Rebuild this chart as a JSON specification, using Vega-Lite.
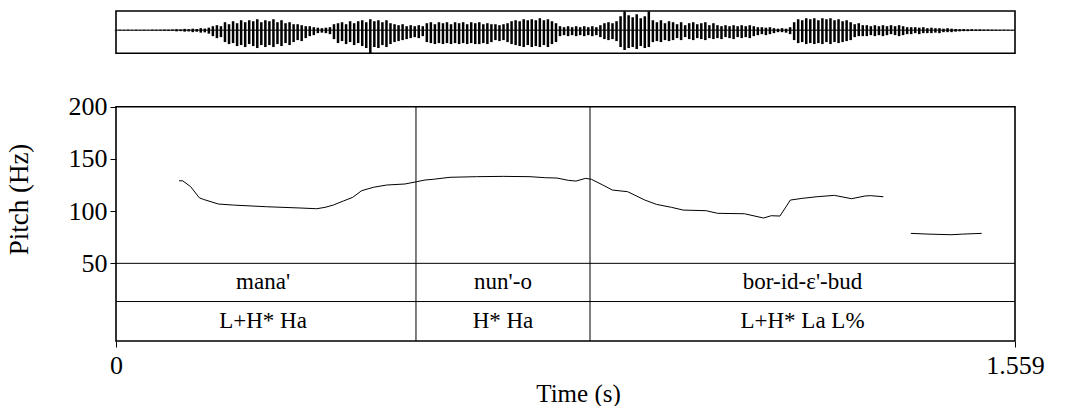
{
  "$schema": "https://vega.github.io/schema/vega-lite/v6.json",
  "autosize": {"type": "none"},
  "padding": {"left": 116, "top": 11, "right": 60, "bottom": 65},
  "width": 899,
  "height": 330,
  "background": "white",
  "config": {"font": "Liberation Serif", "view": {"stroke": null}},
  "datasets": {
    "pitch": [
      {"t":0.1093,"f":129.1,"seg":1},{"t":0.1157,"f":129.0,"seg":1},{"t":0.1295,"f":123.4,"seg":1},{"t":0.1445,"f":112.8,"seg":1},{"t":0.1514,"f":111.3,"seg":1},{"t":0.1774,"f":106.8,"seg":1},{"t":0.2034,"f":105.8,"seg":1},{"t":0.2613,"f":104.2,"seg":1},{"t":0.3191,"f":103.0,"seg":1},{"t":0.348,"f":102.3,"seg":1},{"t":0.3624,"f":103.6,"seg":1},{"t":0.3768,"f":105.8,"seg":1},{"t":0.3942,"f":109.7,"seg":1},{"t":0.4105,"f":113.2,"seg":1},{"t":0.4261,"f":119.6,"seg":1},{"t":0.4462,"f":122.8,"seg":1},{"t":0.4694,"f":125.0,"seg":1},{"t":0.5012,"f":126.0,"seg":1},{"t":0.5214,"f":128.2,"seg":1},{"t":0.5358,"f":129.8,"seg":1},{"t":0.5502,"f":130.5,"seg":1},{"t":0.5792,"f":132.4,"seg":1},{"t":0.6251,"f":133.0,"seg":1},{"t":0.6716,"f":133.3,"seg":1},{"t":0.7179,"f":133.0,"seg":1},{"t":0.7446,"f":132.0,"seg":1},{"t":0.7646,"f":131.7,"seg":1},{"t":0.7845,"f":129.5,"seg":1},{"t":0.7977,"f":128.8,"seg":1},{"t":0.8143,"f":131.4,"seg":1},{"t":0.8244,"f":130.5,"seg":1},{"t":0.8442,"f":125.0,"seg":1},{"t":0.8608,"f":120.2,"seg":1},{"t":0.8873,"f":118.6,"seg":1},{"t":0.9172,"f":110.6,"seg":1},{"t":0.9371,"f":106.5,"seg":1},{"t":0.9636,"f":103.6,"seg":1},{"t":0.9836,"f":101.0,"seg":1},{"t":1.0235,"f":100.4,"seg":1},{"t":1.0432,"f":97.9,"seg":1},{"t":1.0897,"f":97.5,"seg":1},{"t":1.123,"f":93.4,"seg":1},{"t":1.1362,"f":95.6,"seg":1},{"t":1.1514,"f":95.3,"seg":1},{"t":1.1695,"f":110.6,"seg":1},{"t":1.1893,"f":112.2,"seg":1},{"t":1.2158,"f":113.8,"seg":1},{"t":1.2458,"f":115.1,"seg":1},{"t":1.2756,"f":111.9,"seg":1},{"t":1.2988,"f":114.5,"seg":1},{"t":1.3087,"f":114.8,"seg":1},{"t":1.3307,"f":113.8,"seg":1},
      {"t":1.3784,"f":78.7,"seg":2},{"t":1.4081,"f":78.0,"seg":2},{"t":1.448,"f":77.4,"seg":2},{"t":1.4681,"f":78.0,"seg":2},{"t":1.5012,"f":78.7,"seg":2}
    ],
    "intervals": [
      {"tier":"word","start":0,"end":0.5202,"t":0.2550,"label":"mana'"},
      {"tier":"word","start":0.5202,"end":0.822,"t":0.6711,"label":"nun'-o"},
      {"tier":"word","start":0.822,"end":1.559,"t":1.1905,"label":"bor-id-ɛ'-bud"},
      {"tier":"tone","start":0,"end":0.5202,"t":0.2550,"label":"L+H* Ha"},
      {"tier":"tone","start":0.5202,"end":0.822,"t":0.6711,"label":"H* Ha"},
      {"tier":"tone","start":0.822,"end":1.559,"t":1.1905,"label":"L+H* La L%"}
    ],
    "wave": [
      {"t":0,"h":0.3,"l":-0.3},{"t":0.007,"h":0.4,"l":-0.3},{"t":0.014,"h":0.3,"l":-0.4},{"t":0.021,"h":0.5,"l":-0.3},{"t":0.028,"h":0.3,"l":-0.3},{"t":0.035,"h":0.4,"l":-0.5},{"t":0.042,"h":0.3,"l":-0.3},{"t":0.049,"h":0.4,"l":-0.4},{"t":0.056,"h":0.3,"l":-0.3},{"t":0.063,"h":0.5,"l":-0.4},
      {"t":0.07,"h":0.4,"l":-0.5},{"t":0.077,"h":0.5,"l":-0.4},{"t":0.084,"h":0.6,"l":-0.6},{"t":0.091,"h":0.5,"l":-0.7},{"t":0.098,"h":0.7,"l":-0.6},{"t":0.105,"h":1,"l":-1.2},{"t":0.112,"h":0.8,"l":-1},{"t":0.119,"h":1.3,"l":-1.5},{"t":0.126,"h":1,"l":-1.3},{"t":0.133,"h":1.5,"l":-2},
      {"t":0.14,"h":1.2,"l":-1.6},{"t":0.147,"h":2,"l":-2.5},{"t":0.154,"h":1.6,"l":-2.2},{"t":0.161,"h":2.5,"l":-3.5},{"t":0.168,"h":4,"l":-6},{"t":0.175,"h":5,"l":-8},{"t":0.182,"h":4,"l":-7},{"t":0.189,"h":8,"l":-12},{"t":0.196,"h":6,"l":-14},{"t":0.203,"h":9,"l":-13},
      {"t":0.21,"h":7,"l":-16},{"t":0.217,"h":10,"l":-15},{"t":0.224,"h":8,"l":-17},{"t":0.231,"h":10,"l":-14},{"t":0.238,"h":9,"l":-16},{"t":0.245,"h":11,"l":-18},{"t":0.252,"h":8,"l":-15},{"t":0.259,"h":10,"l":-17},{"t":0.266,"h":9,"l":-15},{"t":0.273,"h":11,"l":-17},
      {"t":0.28,"h":8,"l":-14},{"t":0.287,"h":10,"l":-16},{"t":0.294,"h":7,"l":-13},{"t":0.301,"h":8,"l":-15},{"t":0.308,"h":6,"l":-12},{"t":0.315,"h":6,"l":-10},{"t":0.322,"h":5,"l":-11},{"t":0.329,"h":4,"l":-8},{"t":0.336,"h":4,"l":-6},{"t":0.343,"h":3,"l":-5},
      {"t":0.35,"h":2.5,"l":-3},{"t":0.357,"h":2,"l":-2.5},{"t":0.364,"h":2.5,"l":-3},{"t":0.371,"h":3,"l":-4},{"t":0.378,"h":6,"l":-9},{"t":0.385,"h":7,"l":-13},{"t":0.392,"h":8,"l":-11},{"t":0.399,"h":6,"l":-14},{"t":0.406,"h":9,"l":-12},{"t":0.413,"h":7,"l":-15},
      {"t":0.42,"h":9,"l":-13},{"t":0.427,"h":10,"l":-16},{"t":0.434,"h":8,"l":-18},{"t":0.441,"h":11,"l":-23},{"t":0.448,"h":9,"l":-17},{"t":0.455,"h":10,"l":-18},{"t":0.462,"h":8,"l":-15},{"t":0.469,"h":10,"l":-17},{"t":0.476,"h":7,"l":-14},{"t":0.483,"h":6,"l":-12},
      {"t":0.49,"h":5,"l":-11},{"t":0.497,"h":6,"l":-10},{"t":0.504,"h":4,"l":-9},{"t":0.511,"h":5,"l":-8},{"t":0.518,"h":4,"l":-7},{"t":0.525,"h":5,"l":-8},{"t":0.532,"h":4,"l":-6},{"t":0.539,"h":7,"l":-12},{"t":0.546,"h":8,"l":-13},{"t":0.553,"h":6,"l":-14},
      {"t":0.56,"h":8,"l":-13},{"t":0.567,"h":7,"l":-14},{"t":0.574,"h":8,"l":-13},{"t":0.581,"h":6,"l":-14},{"t":0.588,"h":8,"l":-13},{"t":0.595,"h":7,"l":-14},{"t":0.602,"h":8,"l":-13},{"t":0.609,"h":6,"l":-14},{"t":0.616,"h":8,"l":-13},{"t":0.623,"h":7,"l":-14},
      {"t":0.63,"h":8,"l":-14},{"t":0.637,"h":6,"l":-13},{"t":0.644,"h":7,"l":-14},{"t":0.651,"h":6,"l":-12},{"t":0.658,"h":6,"l":-10},{"t":0.665,"h":5,"l":-11},{"t":0.672,"h":6,"l":-10},{"t":0.679,"h":7,"l":-12},{"t":0.686,"h":9,"l":-14},{"t":0.693,"h":10,"l":-15},
      {"t":0.7,"h":9,"l":-16},{"t":0.707,"h":11,"l":-17},{"t":0.714,"h":10,"l":-15},{"t":0.721,"h":11,"l":-17},{"t":0.728,"h":10,"l":-16},{"t":0.735,"h":12,"l":-17},{"t":0.742,"h":10,"l":-15},{"t":0.749,"h":11,"l":-17},{"t":0.756,"h":9,"l":-14},{"t":0.763,"h":7,"l":-12},
      {"t":0.77,"h":4,"l":-6},{"t":0.777,"h":3,"l":-5},{"t":0.784,"h":4,"l":-6},{"t":0.791,"h":3,"l":-5},{"t":0.798,"h":4,"l":-6},{"t":0.805,"h":3,"l":-5},{"t":0.812,"h":4,"l":-6},{"t":0.819,"h":3,"l":-5},{"t":0.826,"h":4,"l":-6},{"t":0.833,"h":3,"l":-5},
      {"t":0.84,"h":5,"l":-7},{"t":0.847,"h":7,"l":-9},{"t":0.854,"h":8,"l":-10},{"t":0.861,"h":7,"l":-9},{"t":0.868,"h":9,"l":-11},{"t":0.875,"h":14,"l":-17},{"t":0.882,"h":19,"l":-20},{"t":0.889,"h":15,"l":-18},{"t":0.896,"h":13,"l":-17},{"t":0.903,"h":16,"l":-19},
      {"t":0.91,"h":12,"l":-16},{"t":0.917,"h":14,"l":-18},{"t":0.924,"h":19,"l":-17},{"t":0.931,"h":10,"l":-12},{"t":0.938,"h":8,"l":-11},{"t":0.945,"h":10,"l":-12},{"t":0.952,"h":7,"l":-10},{"t":0.959,"h":9,"l":-11},{"t":0.966,"h":8,"l":-10},{"t":0.973,"h":6,"l":-8},
      {"t":0.98,"h":8,"l":-10},{"t":0.987,"h":5,"l":-7},{"t":0.994,"h":7,"l":-9},{"t":1.001,"h":8,"l":-10},{"t":1.008,"h":6,"l":-8},{"t":1.015,"h":7,"l":-9},{"t":1.022,"h":8,"l":-10},{"t":1.029,"h":5,"l":-8},{"t":1.036,"h":7,"l":-9},{"t":1.043,"h":5,"l":-8},
      {"t":1.05,"h":4,"l":-9},{"t":1.057,"h":5,"l":-7},{"t":1.064,"h":4,"l":-8},{"t":1.071,"h":5,"l":-9},{"t":1.078,"h":4,"l":-7},{"t":1.085,"h":5,"l":-8},{"t":1.092,"h":4,"l":-7},{"t":1.099,"h":5,"l":-8},{"t":1.106,"h":4,"l":-6},{"t":1.113,"h":3,"l":-5},
      {"t":1.12,"h":3,"l":-4},{"t":1.127,"h":2.5,"l":-5},{"t":1.134,"h":3,"l":-4},{"t":1.141,"h":2,"l":-3},{"t":1.148,"h":1.5,"l":-2},{"t":1.155,"h":2,"l":-2},{"t":1.162,"h":1.5,"l":-2.5},{"t":1.169,"h":3,"l":-4},{"t":1.176,"h":8,"l":-10},{"t":1.183,"h":11,"l":-13},
      {"t":1.19,"h":10,"l":-12},{"t":1.197,"h":12,"l":-14},{"t":1.204,"h":11,"l":-13},{"t":1.211,"h":12,"l":-14},{"t":1.218,"h":10,"l":-13},{"t":1.225,"h":12,"l":-14},{"t":1.232,"h":11,"l":-12},{"t":1.239,"h":12,"l":-14},{"t":1.246,"h":10,"l":-12},{"t":1.253,"h":11,"l":-13},
      {"t":1.26,"h":9,"l":-12},{"t":1.267,"h":10,"l":-11},{"t":1.274,"h":8,"l":-10},{"t":1.281,"h":6,"l":-7},{"t":1.288,"h":7,"l":-6},{"t":1.295,"h":5,"l":-6},{"t":1.302,"h":5,"l":-6},{"t":1.309,"h":4,"l":-5},{"t":1.316,"h":5,"l":-6},{"t":1.323,"h":4,"l":-5},
      {"t":1.33,"h":5,"l":-6},{"t":1.337,"h":4,"l":-5},{"t":1.344,"h":5,"l":-4},{"t":1.351,"h":4,"l":-5},{"t":1.358,"h":5,"l":-6},{"t":1.365,"h":4,"l":-5},{"t":1.372,"h":3,"l":-4},{"t":1.379,"h":3,"l":-4},{"t":1.386,"h":3,"l":-3},{"t":1.393,"h":2.5,"l":-4},
      {"t":1.4,"h":3,"l":-3},{"t":1.407,"h":2,"l":-3},{"t":1.414,"h":2.5,"l":-3},{"t":1.421,"h":2,"l":-2.5},{"t":1.428,"h":2,"l":-3},{"t":1.435,"h":1.5,"l":-2},{"t":1.442,"h":2,"l":-2},{"t":1.449,"h":1.5,"l":-2},{"t":1.456,"h":1.2,"l":-1.5},{"t":1.463,"h":1,"l":-1.2},
      {"t":1.47,"h":1.2,"l":-1},{"t":1.477,"h":0.8,"l":-1},{"t":1.484,"h":1,"l":-0.8},{"t":1.491,"h":0.7,"l":-0.8},{"t":1.498,"h":0.8,"l":-0.7},{"t":1.505,"h":0.6,"l":-0.6},{"t":1.512,"h":0.7,"l":-0.5},{"t":1.519,"h":0.5,"l":-0.6},{"t":1.526,"h":0.5,"l":-0.5},{"t":1.533,"h":0.4,"l":-0.5},
      {"t":1.54,"h":0.5,"l":-0.4},{"t":1.547,"h":0.4,"l":-0.4},{"t":1.554,"h":0.3,"l":-0.3}
    ]
  },
  "resolve": {"scale": {"y": "independent"}, "axis": {"y": "independent"}},
  "layer": [
    {
      "layer": [
        {
          "data": {"name": "pitch"},
          "mark": {"type": "line", "color": "black", "strokeWidth": 1},
          "encoding": {
            "x": {"field": "t", "type": "quantitative",
              "scale": {"domain": [0, 1.559], "nice": false, "zero": false},
              "axis": {"values": [0, 1.559], "format": ".4~g", "domain": false, "grid": false,
                "tickSize": 6, "tickColor": "black", "labelFontSize": 26, "labelColor": "black",
                "labelPadding": 5, "labelFlush": false, "labelOverlap": false, "labelBound": false,
                "title": "Time (s)", "titleFontSize": 25, "titleFontWeight": "normal", "titleColor": "black",
                "titleX": 462, "titleY": 52, "titleBaseline": "middle", "titleAlign": "center"}},
            "y": {"field": "f", "type": "quantitative",
              "scale": {"domain": [-24.4, 291.7], "nice": false, "zero": false},
              "axis": {"values": [50, 100, 150, 200], "domain": false, "grid": false,
                "tickSize": 6, "tickColor": "black", "labelFontSize": 26, "labelColor": "black",
                "labelPadding": 3, "labelOverlap": false, "labelBound": false,
                "title": "Pitch (Hz)", "titleFontSize": 27, "titleFontWeight": "normal", "titleColor": "black",
                "titleX": -97, "titleY": 188, "titleAngle": -90, "titleBaseline": "middle", "titleAlign": "center"}},
            "detail": {"field": "seg", "type": "nominal"}
          }
        },
        {
          "data": {"values": [{}]},
          "mark": {"type": "rect", "fill": null, "stroke": "black", "strokeWidth": 1.6},
          "encoding": {
            "x": {"datum": 0, "type": "quantitative"},
            "x2": {"datum": 1.559},
            "y": {"datum": 200, "type": "quantitative"},
            "y2": {"datum": -24.4}
          }
        },
        {
          "data": {"values": [{}]},
          "mark": {"type": "rule", "color": "black", "strokeWidth": 1},
          "encoding": {"y": {"datum": 50, "type": "quantitative"}}
        },
        {
          "data": {"values": [{}]},
          "mark": {"type": "rule", "color": "black", "strokeWidth": 1},
          "encoding": {"y": {"datum": 13.4, "type": "quantitative"}}
        },
        {
          "data": {"name": "intervals"},
          "transform": [{"filter": "datum.tier == 'word' && datum.start > 0"}],
          "mark": {"type": "rule", "color": "black", "strokeWidth": 1},
          "encoding": {
            "x": {"field": "start", "type": "quantitative"},
            "y": {"datum": 200, "type": "quantitative"},
            "y2": {"datum": -24.4}
          }
        }
      ]
    },
    {
      "layer": [
        {
          "data": {"name": "wave"},
          "mark": {"type": "rule", "color": "black", "strokeWidth": 2.5},
          "encoding": {
            "x": {"field": "t", "type": "quantitative"},
            "y": {"field": "h", "type": "quantitative", "axis": null,
              "scale": {"domain": [-23.3, 19.3], "range": [42.3, 0], "nice": false, "zero": false}},
            "y2": {"field": "l"}
          }
        },
        {
          "data": {"values": [{}]},
          "mark": {"type": "rule", "color": "black", "strokeWidth": 1},
          "encoding": {"y": {"datum": 0, "type": "quantitative", "axis": null}}
        },
        {
          "data": {"values": [{}]},
          "mark": {"type": "rect", "fill": null, "stroke": "black", "strokeWidth": 1.6},
          "encoding": {
            "x": {"datum": 0, "type": "quantitative"},
            "x2": {"datum": 1.559},
            "y": {"datum": 19.3, "type": "quantitative", "axis": null},
            "y2": {"datum": -23.3}
          }
        }
      ]
    },
    {
      "data": {"name": "intervals"},
      "mark": {"type": "text", "fontSize": 23, "color": "black", "baseline": "middle", "align": "center"},
      "encoding": {
        "x": {"field": "t", "type": "quantitative"},
        "y": {"field": "tier", "type": "nominal", "axis": null,
          "scale": {"type": "point", "domain": ["word", "tone"], "range": [271.4, 310.3], "padding": 0}},
        "text": {"field": "label"}
      }
    }
  ]
}
